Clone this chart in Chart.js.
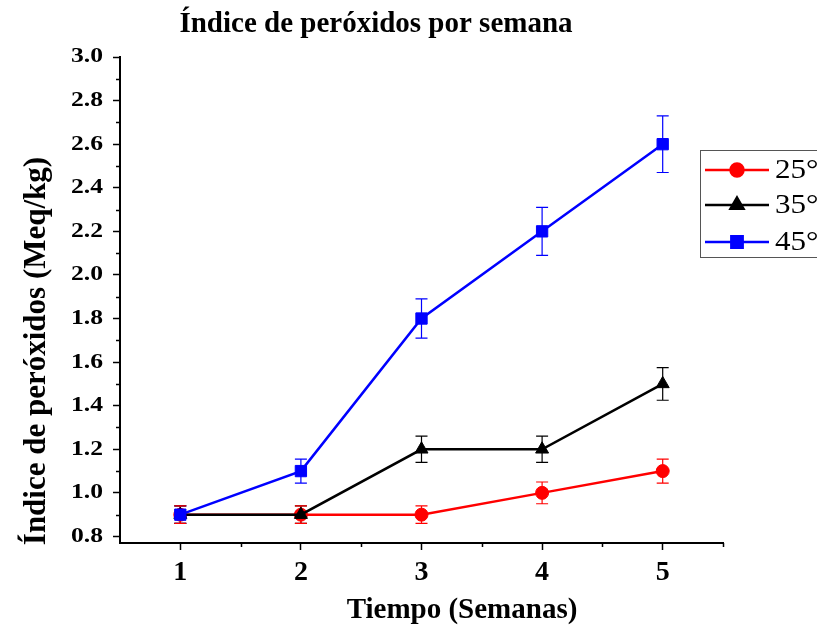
<!DOCTYPE html>
<html>
<head>
<meta charset="utf-8">
<script src="https://cdn.jsdelivr.net/npm/chart.js@4"></script>
<style>
  html, body { margin: 0; padding: 0; background: #fff; }
  #wrap { width: 817px; height: 625px; }
</style>
</head>
<body>
<div id="wrap"><canvas id="c" width="817" height="625"></canvas></div>
<script>
// Weeks of storage
const weeks = [1, 2, 3, 4, 5];
// Peroxide index (Meq/kg) per storage temperature
const t25 = [0.9, 0.9, 0.9, 1.0, 1.1];
const t35 = [0.9, 0.9, 1.2, 1.2, 1.5];
const t45 = [0.9, 1.1, 1.8, 2.2, 2.6];
// Standard deviations
const err25 = [0.04, 0.04, 0.04, 0.05, 0.055];
const err35 = [0.04, 0.04, 0.06, 0.06, 0.075];
const err45 = [0.04, 0.055, 0.09, 0.11, 0.13];
// Axis ticks
const yTicks = [0.8, 1.0, 1.2, 1.4, 1.6, 1.8, 2.0, 2.2, 2.4, 2.6, 2.8, 3.0];
const xTicks = [1, 2, 3, 4, 5];
const seriesNames = ['25°', '35°', '45°'];

const SERIF = '"Liberation Serif", "Times New Roman", serif';

const pts = (ys) => weeks.map((w, i) => ({ x: w, y: ys[i] }));

const series = [
  { name: seriesNames[0], data: t25, err: err25, color: '#ff0000', style: 'circle', r: 6.5, order: 2 },
  { name: seriesNames[1], data: t35, err: err35, color: '#000000', style: 'triangle', r: 7.5, order: 1 },
  { name: seriesNames[2], data: t45, err: err45, color: '#0000ff', style: 'rect', r: 8, order: 0 }
];

// Error bars, tick labels, minor ticks, titles and legend
const decor = {
  id: 'decor',
  beforeDatasetsDraw(chart) {
    const ctx = chart.ctx, xs = chart.scales.x, ys = chart.scales.y;
    ctx.save();
    ctx.lineWidth = 1.2;
    series.slice().reverse().forEach(s => {
      ctx.strokeStyle = s.color;
      s.data.forEach((v, i) => {
        const px = xs.getPixelForValue(weeks[i]);
        const top = ys.getPixelForValue(v + s.err[i]);
        const bot = ys.getPixelForValue(v - s.err[i]);
        ctx.beginPath();
        ctx.moveTo(px, top); ctx.lineTo(px, bot);
        ctx.moveTo(px - 6, top); ctx.lineTo(px + 6, top);
        ctx.moveTo(px - 6, bot); ctx.lineTo(px + 6, bot);
        ctx.stroke();
      });
    });
    ctx.restore();
  },
  afterDraw(chart) {
    const ctx = chart.ctx, xs = chart.scales.x, ys = chart.scales.y;
    const area = chart.chartArea;
    ctx.save();
    // minor ticks
    ctx.strokeStyle = '#000';
    ctx.lineWidth = 1.5;
    ctx.beginPath();
    for (let v = 0.9; v < 3.0; v += 0.2) {
      const py = Math.round(ys.getPixelForValue(v)) + 0.5;
      ctx.moveTo(area.left, py); ctx.lineTo(area.left - 4, py);
    }
    for (let v = 1.5; v <= 5.5; v += 1) {
      const px = Math.round(xs.getPixelForValue(v)) + 0.5;
      ctx.moveTo(px, area.bottom); ctx.lineTo(px, area.bottom + 4);
    }
    ctx.stroke();

    ctx.fillStyle = '#000';

    // y tick labels (wide bold digits)
    ctx.font = 'bold 21px ' + SERIF;
    ctx.textAlign = 'right';
    ctx.textBaseline = 'middle';
    yTicks.forEach(v => {
      const py = ys.getPixelForValue(v);
      ctx.save();
      ctx.translate(103, py);
      ctx.scale(1.22, 1);
      ctx.fillText(v.toFixed(1), 0, 0);
      ctx.restore();
    });

    // x tick labels
    ctx.font = 'bold 28px ' + SERIF;
    ctx.textAlign = 'center';
    ctx.textBaseline = 'alphabetic';
    xTicks.forEach(v => {
      ctx.fillText(String(v), xs.getPixelForValue(v), 580);
    });

    // titles
    ctx.font = 'bold 29px ' + SERIF;
    ctx.fillText('Índice de peróxidos por semana', 376, 32);
    ctx.fillText('Tiempo (Semanas)', 462, 618);
    ctx.save();
    ctx.translate(45, 351);
    ctx.rotate(-Math.PI / 2);
    ctx.font = 'bold 31px ' + SERIF;
    ctx.fillText('Índice de peróxidos (Meq/kg)', 0, 0);
    ctx.restore();

    // legend
    ctx.strokeStyle = '#555';
    ctx.lineWidth = 1;
    ctx.strokeRect(700.5, 150.5, 130, 107);
    const rows = [170, 205, 242];
    ctx.textBaseline = 'middle';
    series.forEach((s, i) => {
      const y = rows[i];
      ctx.strokeStyle = s.color;
      ctx.fillStyle = s.color;
      ctx.lineWidth = 2.5;
      ctx.beginPath();
      ctx.moveTo(705, y); ctx.lineTo(769, y);
      ctx.stroke();
      Chart.helpers.drawPoint(ctx, { pointStyle: s.style, radius: s.r, borderWidth: 1 }, 737, y);
      ctx.fillStyle = '#000';
      ctx.textAlign = 'left';
      ctx.font = '27px ' + SERIF;
      ctx.save();
      ctx.translate(775, y + 1);
      ctx.scale(1.15, 1);
      ctx.fillText(s.name, 0, 0);
      ctx.restore();
    });
    ctx.restore();
  }
};

new Chart(document.getElementById('c'), {
  type: 'line',
  data: {
    datasets: series.map(s => ({
      label: s.name,
      data: pts(s.data),
      borderColor: s.color,
      backgroundColor: s.color,
      borderWidth: 2.5,
      pointStyle: s.style,
      pointRadius: s.r,
      pointBorderWidth: 1,
      pointBackgroundColor: s.color,
      pointBorderColor: s.color,
      order: s.order,
      tension: 0
    }))
  },
  options: {
    responsive: false,
    animation: false,
    events: [],
    layout: { padding: { left: 0, top: 57, right: 94, bottom: 0 } },
    plugins: { legend: { display: false }, tooltip: { enabled: false }, title: { display: false } },
    scales: {
      x: {
        type: 'linear',
        min: 0.5, max: 5.5,
        afterBuildTicks: (sc) => { sc.ticks = xTicks.map(v => ({ value: v })); },
        afterFit: (sc) => { sc.height = 82; },
        border: { display: true, color: '#000', width: 2 },
        grid: { drawOnChartArea: false, drawTicks: true, tickLength: 7, tickWidth: 1.5, tickColor: '#000' },
        ticks: { display: false }
      },
      y: {
        type: 'linear',
        min: 0.77, max: 3.0,
        afterBuildTicks: (sc) => { sc.ticks = yTicks.map(v => ({ value: v })); },
        afterFit: (sc) => { sc.width = 120; },
        border: { display: true, color: '#000', width: 2 },
        grid: { drawOnChartArea: false, drawTicks: true, tickLength: 7, tickWidth: 1.5, tickColor: '#000' },
        ticks: { display: false }
      }
    }
  },
  plugins: [decor]
});
</script>
</body>
</html>
